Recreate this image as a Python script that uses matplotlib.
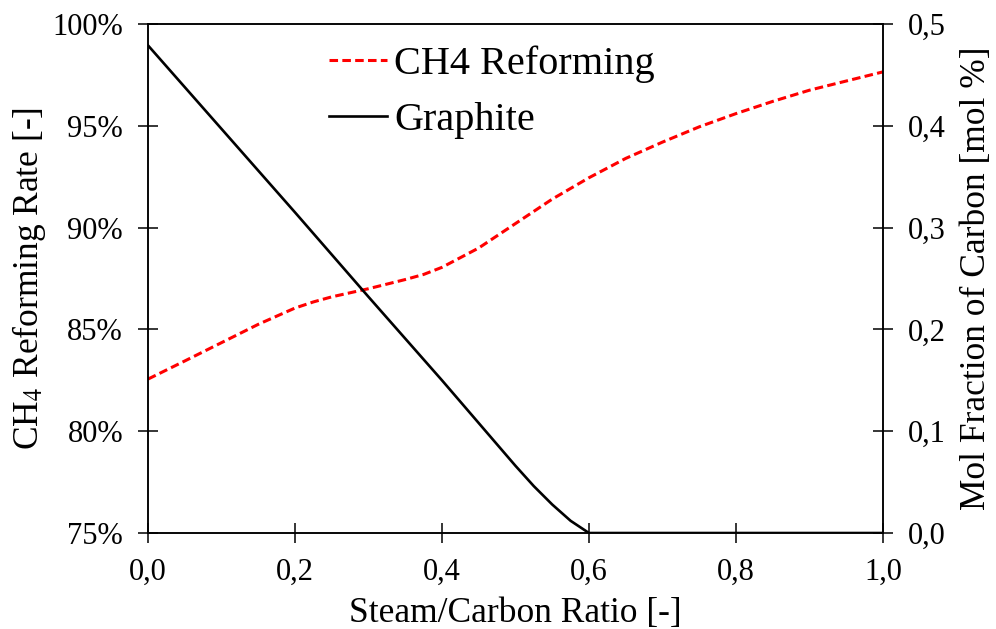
"""
Reformado de CH4 y fracción de grafito frente a la relación vapor/carbono.
"""

import matplotlib
matplotlib.use("Agg")
import matplotlib.pyplot as plt
from matplotlib.ticker import FuncFormatter, MultipleLocator

plt.rcParams['font.family'] = ['Liberation Serif', 'DejaVu Serif']
plt.rcParams['mathtext.fontset'] = 'stix'

# Datos
ratio_ch4 = [0.0, 0.05, 0.1, 0.15, 0.2, 0.225, 0.25, 0.3, 0.35, 0.375, 0.4, 0.45, 0.5,
             0.55, 0.6, 0.65, 0.7, 0.75, 0.8, 0.85, 0.9, 0.95, 1.0]
ch4_reforming = [82.56, 83.45, 84.35, 85.25, 86.05, 86.35, 86.6, 87.0, 87.45, 87.7, 88.05,
                 89.0, 90.2, 91.4, 92.45, 93.4, 94.2, 94.95, 95.6, 96.2, 96.75, 97.2, 97.65]

ratio_c = [0.0, 0.1, 0.2, 0.3, 0.4, 0.45, 0.475, 0.5, 0.525, 0.55, 0.575, 0.6,
           0.7, 0.8, 0.9, 1.0]
graphite = [0.479, 0.397, 0.315, 0.232, 0.150, 0.108, 0.087, 0.066, 0.046, 0.028, 0.012, 0.0,
            0.0, 0.0, 0.0, 0.0]


def coma(fmt):
    return FuncFormatter(lambda v, pos: fmt.format(v).replace('.', ','))


fig = plt.figure(figsize=(9.96, 6.29), dpi=100)
ax = fig.add_axes([0.1486, 0.1526, 0.7379, 0.8092])
ax2 = ax.twinx()

l1, = ax.plot(ratio_ch4, ch4_reforming, color='#ff0000', lw=2.2, dashes=(2.8, 1.4),
              label='CH4 Reforming')
l2, = ax2.plot(ratio_c, graphite, color='black', lw=1.9, label='Graphite')

ax.set_xlim(0, 1)
ax.set_ylim(75, 100)
ax2.set_ylim(0, 0.5)
ax.xaxis.set_major_locator(MultipleLocator(0.2))
ax.yaxis.set_major_locator(MultipleLocator(5))
ax2.yaxis.set_major_locator(MultipleLocator(0.1))
ax.xaxis.set_major_formatter(coma('{:.1f}'))
ax.yaxis.set_major_formatter(FuncFormatter(lambda v, pos: '{:.0f}%'.format(v)))
ax2.yaxis.set_major_formatter(coma('{:.1f}'))

for a in (ax, ax2):
    a.tick_params(direction='inout', length=14, width=1.1, labelsize=22, pad=11)
    for s in a.spines.values():
        s.set_linewidth(1.1)

ax.set_xlabel('Steam/Carbon Ratio [-]', fontsize=25.5, labelpad=7)
ax.set_ylabel('CH$_4$ Reforming Rate [-]', fontsize=25.5, labelpad=3)
ax2.set_ylabel('Mol Fraction of Carbon [mol %]', fontsize=25.5, labelpad=10)

fig.legend(handles=[l1, l2], loc='upper left', bbox_to_anchor=(0.33, 0.928),
           frameon=False, fontsize=29, handlelength=1.45, handletextpad=0.17,
           labelspacing=0.48, borderpad=0, borderaxespad=0)

fig.savefig('out.png', dpi=100)
